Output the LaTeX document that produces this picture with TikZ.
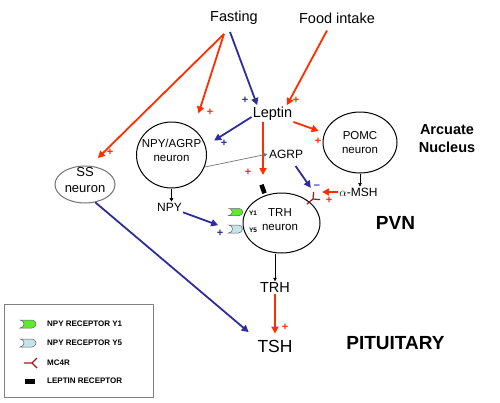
\documentclass[tikz,border=0pt]{standalone}
\usepackage{fontspec}
\setmainfont{Liberation Sans}
\usepackage{tikz}
\usetikzlibrary{arrows.meta,positioning,shapes.geometric,shapes.misc}
\definecolor{upred}{RGB}{255,45,0}
\definecolor{upblue}{RGB}{45,45,155}
\definecolor{mcred}{RGB}{160,25,25}
\definecolor{yonegreen}{RGB}{95,235,45}
\definecolor{yfiveblue}{RGB}{195,228,232}
\newcommand{\fs}[2]{\fontsize{#1}{#2}\selectfont}

\tikzset{
  txt/.style={ inner sep=1pt, font=\fs{14.5}{17} }
}
\tikzset{
  cell/.style={ draw, ellipse, line width=1pt, inner sep=0pt }
}
\tikzset{
  celltxt/.style={ align=center, inner sep=0pt, font=\fs{11.5}{14} }
}
\tikzset{
  region/.style={ inner sep=1pt, align=center, font=\bfseries\fs{14.5}{18} }
}
\tikzset{
  redarr/.style={ draw=upred, line width=1.8pt, -{Triangle[length=7pt,width=7pt]} },
  bluearr/.style={ draw=upblue, line width=1.8pt, -{Triangle[length=7pt,width=7pt]} },
  smallarr/.style={ draw=black, line width=0.6pt, -{Triangle[length=3.5pt,width=3.5pt]} }
}
\tikzset{
  redplus/.style={ text=upred, inner sep=0pt, font=\bfseries\fs{11}{11} },
  blueplus/.style={ text=upblue, inner sep=0pt, font=\bfseries\fs{11}{11} }
}
\tikzset{
  yrec/.style={ rounded rectangle, rounded rectangle west arc=concave, draw=black!60,
    line width=0.5pt, inner sep=0pt, minimum width=14pt, minimum height=7pt }
}
\tikzset{
  lepbar/.style={ fill=black, inner sep=0pt, minimum width=4.5pt, minimum height=9pt }
}
\tikzset{
  legtxt/.style={ inner sep=0pt, anchor=west, font=\bfseries\fs{8}{8} }
}
\tikzset{
  mcfour/.pic={
    \draw[mcred, line width=1.2pt] (-8,0) -- (0,0) -- (5,-5) (0,0) -- (5,5);
    \coordinate (-a) at (5,-5);
    \coordinate (-b) at (5,5);
  }
}

\begin{document}
\begin{tikzpicture}[x=1pt,y=-1pt]
  \useasboundingbox (0,0) rectangle (500,402);

  % inputs
  \node[txt] (fasting) at (234,18) {Fasting};
  \node[txt] (food) at (337,18) {Food intake};
  \node[txt] (leptin) at (272.5,114) {Leptin};
  \coordinate (fastr) at ([xshift=-10pt,yshift=-8pt]fasting.south);
  \coordinate (fastb) at ([xshift=-4pt,yshift=-6pt]fasting.south);
  \coordinate (foodr) at ([xshift=-10pt,yshift=-6pt]food.south);

  % neurons
  \node[cell, minimum width=70pt, minimum height=66pt,
        label={[celltxt, yshift=5pt]center:NPY/AGRP\\neuron}] (npyagrp) at (171.5,155) {};
  \node[cell, minimum width=74pt, minimum height=61pt,
        label={[celltxt]center:POMC\\neuron}] (pomc) at (360,142.5) {};
  \node[cell, draw=black!55, minimum width=60pt, minimum height=37pt,
        label={[celltxt, font=\fs{13}{16}, yshift=4pt]center:SS\\neuron}] (ss) at (85,184.5) {};
  \node[cell, minimum width=77pt, minimum height=60pt,
        label={[celltxt, yshift=3pt, xshift=-1.5pt]center:TRH\\neuron}] (trhn) at (281.5,223) {};

  % receptors on TRH neuron
  \node[yrec, fill=yonegreen] (yone) at (237.5,212) {};
  \node[yrec, fill=yfiveblue, minimum height=8pt] (yfive) at (237.5,229) {};
  \node[inner sep=0pt, font=\bfseries\fs{6.5}{7}] (yonel) at (253,213) {Y1};
  \node[inner sep=0pt, font=\bfseries\fs{6.5}{7}] (yfivel) at (253,230) {Y5};
  \node[lepbar, rotate=20] (lepr) at (263,189) {};
  \pic[rotate=40] (mc4r) at (313,199) {mcfour};

  % messengers
  \node[txt, font=\fs{12}{14}] (agrp) at (286,154) {AGRP};
  \node[txt, font=\fs{12}{14}] (msh) at (358.5,192) {$\alpha$-MSH};
  \node[txt, font=\fs{12}{14}] (npy) at (169.5,207) {NPY};
  \node[txt] (trh) at (275,287.5) {TRH};
  \node[txt, font=\fs{17.5}{20}] (tsh) at (275,346) {TSH};

  % regions
  \node[region] (arc) at (447,139) {Arcuate\\Nucleus};
  \node[region, font=\bfseries\fs{19}{22}] (pvn) at (395.5,223) {PVN};
  \node[region, font=\bfseries\fs{19}{22}] (pit) at (395.5,343) {PITUITARY};

  % connections
  \draw[redarr, shorten >=11pt] (fastr) -- (ss.75);
  \draw[redarr, shorten >=16pt] (fastr) -- (npyagrp.50);
  \draw[bluearr, shorten >=1pt] (fastb) -- ([xshift=6pt]leptin.north west);
  \draw[redarr, shorten >=1pt] (foodr) -- ([xshift=-7pt]leptin.north east);
  \draw[bluearr, shorten >=10pt] ([yshift=-3pt]leptin.west) -- (npyagrp.15);
  \draw[redarr, shorten >=6pt] (leptin.south east) -- (pomc.165);
  \draw[redarr, shorten >=9pt] (leptin.south -| lepr) -- (lepr);
  \draw[draw=black!55, line width=0.7pt, -{Triangle[length=4pt,width=4pt]}, shorten >=0.5pt]
    (npyagrp.-20) -- (agrp.west);
  \draw[bluearr, shorten <=8pt, shorten >=5pt] ([xshift=5pt]agrp.south) -- (mc4r-a);
  \draw[redarr, shorten >=2pt] (msh.west) -- (msh.west -| mc4r-b);
  \draw[smallarr] (pomc.south) -- (pomc.south |- msh.north);
  \draw[smallarr] (npyagrp.south) -- (npyagrp.south |- npy.north);
  \draw[bluearr, shorten >=11pt] (npy.south east) -- (yfive.west);
  \draw[bluearr, shorten >=10pt] (ss.-60) -- (tsh.north west);
  \draw[smallarr] (trh.north |- trhn.south) -- (trh.north);
  \draw[redarr, shorten >=5pt] (trh.south) -- (tsh.north);

  % signs
  \node[redplus] (p1) at (110,152) {+};
  \node[redplus] (p2) at (210,112) {+};
  \node[redplus] (p3) at (296,100) {+};
  \node[redplus] (p4) at (318,141) {+};
  \node[redplus] (p5) at (248,172) {+};
  \node[redplus] (p6) at (329,200) {+};
  \node[redplus] (p7) at (285,327) {+};
  \node[blueplus] (b1) at (245,100) {+};
  \node[blueplus] (b2) at (224,143) {+};
  \node[blueplus] (b3) at (220,233) {+};
  \node[blueplus] (b4) at (317,187) {--};

  % legend
  \node[draw=black!50, line width=0.9pt, minimum width=149pt, minimum height=93pt,
        inner sep=0pt, anchor=north west] (legend) at (4,304) {};
  \node[yrec, fill=yonegreen, minimum width=16pt, minimum height=8pt] (lgyone) at (30,324) {};
  \node[yrec, fill=yfiveblue, minimum width=16pt, minimum height=8pt] (lgyfive) at (30,343) {};
  \pic (lgmc) at (32,363) {mcfour};
  \node[lepbar, minimum width=10pt, minimum height=5pt] (lglep) at (30,381) {};
  \node[legtxt] (lgt1) at (47,324) {NPY RECEPTOR Y1};
  \node[legtxt] (lgt2) at (47,343) {NPY RECEPTOR Y5};
  \node[legtxt] (lgt3) at (47,363) {MC4R};
  \node[legtxt] (lgt4) at (47,381) {LEPTIN RECEPTOR};
\end{tikzpicture}
\end{document}
